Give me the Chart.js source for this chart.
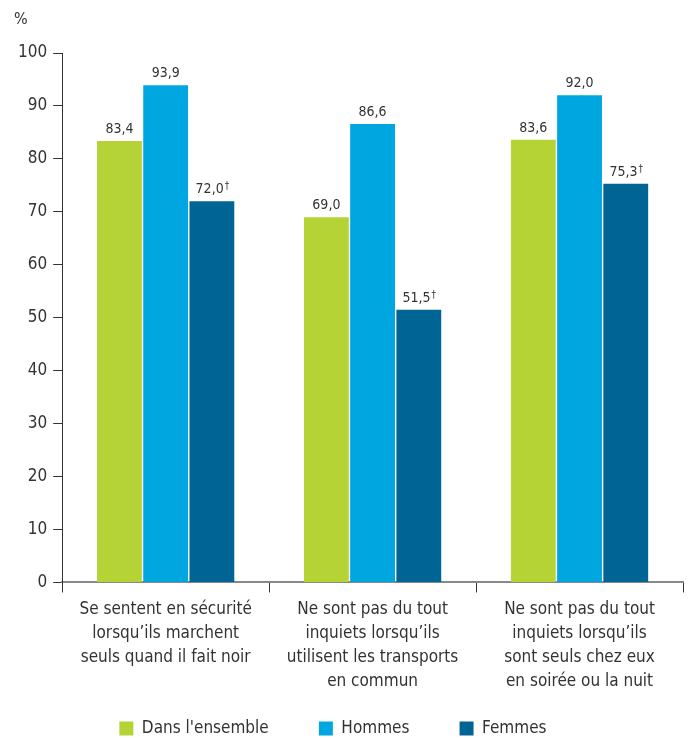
<!DOCTYPE html>
<html>
<head>
<meta charset="utf-8">
<script src="https://cdn.jsdelivr.net/npm/chart.js@4/dist/chart.umd.min.js"></script>
<style>
  html, body { margin: 0; padding: 0; background: #fff; }
  #wrap { width: 689px; height: 738px; }
</style>
</head>
<body>
<div id="wrap"><canvas id="chart"></canvas></div>
<script>
const categories = [
    ["Se sentent en sécurité", "lorsqu’ils marchent", "seuls quand il fait noir"],
    ["Ne sont pas du tout", "inquiets lorsqu’ils", "utilisent les transports", "en commun"],
    ["Ne sont pas du tout", "inquiets lorsqu’ils", "sont seuls chez eux", "en soirée ou la nuit"]
];
const seriesNames = ["Dans l'ensemble", "Hommes", "Femmes"];
const ensemble = [83.4, 69.0, 83.6];
const hommes = [93.9, 86.6, 92.0];
const femmes = [72.0, 51.5, 75.3];
const daggers = [[false, false, false], [false, false, false], [true, true, true]];
const yTicks = [0, 10, 20, 30, 40, 50, 60, 70, 80, 90, 100];

const colors = ["#b5d334", "#00a6df", "#006494"];
const fontFamily = "'Liberation Sans Narrow', 'DejaVu Sans Condensed', 'Roboto', sans-serif";

const valueLabels = {
    id: "valueLabels",
    afterDatasetsDraw(chart) {
        const ctx = chart.ctx;
        ctx.save();
        ctx.fillStyle = "#333";
        ctx.textBaseline = "alphabetic";
        chart.data.datasets.forEach((ds, i) => {
            chart.getDatasetMeta(i).data.forEach((bar, j) => {
                const txt = ds.data[j].toFixed(1).replace(".", ",");
                ctx.font = "14px " + fontFamily;
                const w = ctx.measureText(txt).width;
                let dw = 0;
                if (daggers[i][j]) {
                    ctx.font = "10px " + fontFamily;
                    dw = ctx.measureText("†").width;
                }
                const x0 = bar.x - (w + dw) / 2;
                const y = bar.y - 8;
                ctx.font = "14px " + fontFamily;
                ctx.textAlign = "left";
                ctx.fillText(txt, x0, y);
                if (daggers[i][j]) {
                    ctx.font = "10px " + fontFamily;
                    ctx.fillText("†", x0 + w + 1, y - 4);
                }
            });
        });
        // percent sign above the y axis
        const ys = chart.scales.y;
        ctx.font = "16px " + fontFamily;
        ctx.textAlign = "left";
        ctx.fillText("%", 14, ys.top - 29);
        ctx.restore();
    }
};

new Chart(document.getElementById("chart"), {
    type: "bar",
    data: {
        labels: categories,
        datasets: [
            { label: seriesNames[0], data: ensemble, backgroundColor: colors[0] },
            { label: seriesNames[1], data: hommes, backgroundColor: colors[1] },
            { label: seriesNames[2], data: femmes, backgroundColor: colors[2] }
        ]
    },
    options: {
        responsive: true,
        maintainAspectRatio: false,
        animation: false,
        layout: { padding: { top: 53, right: 6, left: 12, bottom: -9 } },
        categoryPercentage: 0.67,
        barPercentage: 0.97,
        plugins: {
            legend: {
                position: "bottom",
                labels: {
                    boxWidth: 14,
                    boxHeight: 14,
                    padding: 21,
                    color: "#333",
                    font: { family: fontFamily, size: 17 },
                    generateLabels(chart) {
                        const items = Chart.defaults.plugins.legend.labels.generateLabels(chart);
                        items.forEach(it => { it.text = it.text + "      "; });
                        return items;
                    }
                }
            },
            tooltip: { enabled: false }
        },
        scales: {
            x: {
                grid: { drawOnChartArea: false, tickLength: 10, color: "#333", offset: true },
                border: { color: "#888", width: 2 },
                ticks: {
                    color: "#333",
                    padding: 5,
                    font: { family: fontFamily, size: 17, lineHeight: 1.42 },
                    maxRotation: 0
                }
            },
            y: {
                min: 0,
                max: 100,
                afterBuildTicks(axis) { axis.ticks = yTicks.map(v => ({ value: v })); },
                grid: { drawOnChartArea: false, tickLength: 9, color: "#333" },
                border: { color: "#333" },
                ticks: {
                    color: "#333",
                    padding: 6,
                    font: { family: fontFamily, size: 17 }
                }
            }
        }
    },
    plugins: [valueLabels]
});
</script>
</body>
</html>
